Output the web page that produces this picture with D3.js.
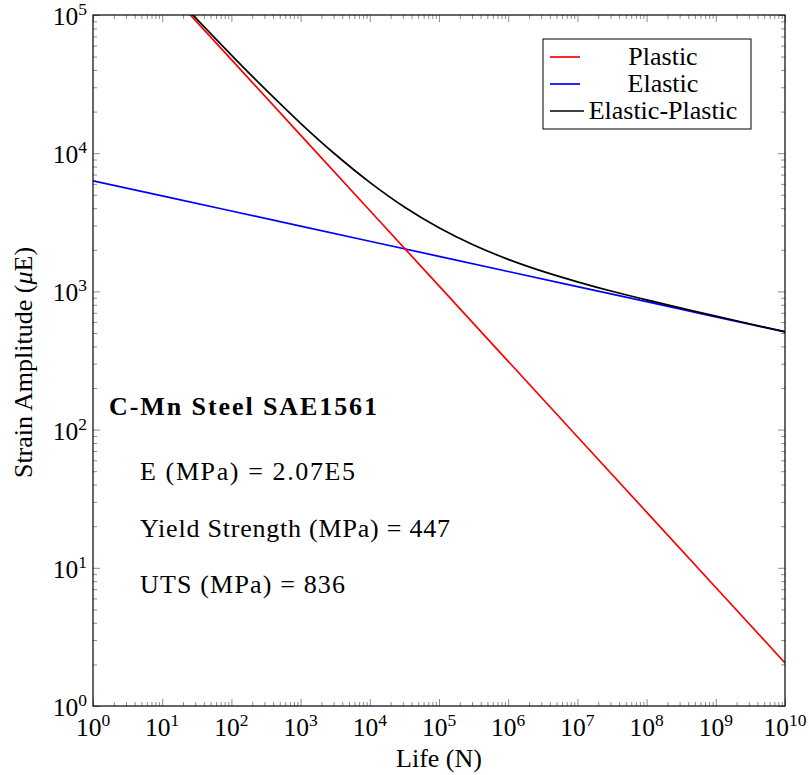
<!DOCTYPE html>
<html><head><meta charset="utf-8">
<script src="https://cdn.jsdelivr.net/npm/d3@7"></script>
<style>body{margin:0;background:#fff}svg{display:block}</style>
</head><body><svg id="c" width="809" height="775"></svg>
<script>
// ---- data ----
const lifeDecades = [0,1,2,3,4,5,6,7,8,9,10];            // x tick exponents
const strainDecades = [0,1,2,3,4,5];                     // y tick exponents
const plasticLife   = [1, 1e1, 1e2, 1e3, 1e4, 1e5, 1e6, 1e7, 1e8, 1e9, 1e10];
const plasticStrain = [586000, 166800, 47500, 13500, 3850, 1096, 312, 88.8, 25.3, 7.2, 2.05];
const elasticLife   = [1, 1e1, 1e2, 1e3, 1e4, 1e5, 1e6, 1e7, 1e8, 1e9, 1e10];
const elasticStrain = [6310, 4905, 3815, 2966, 2306, 1793, 1394, 1084, 843, 655, 509];
const totalLife   = [1, 1e1, 1e2, 3.16e2, 1e3, 3.16e3, 1e4, 3.16e4, 1e5, 3.16e5, 1e6, 3.16e6, 1e7, 3.16e7, 1e8, 1e9, 1e10];
const totalStrain = [592000, 171700, 51300, 28700, 16470, 9830, 6156, 4084, 2889, 2166, 1706, 1395, 1173, 1002, 868, 662, 511];
const seriesNames = ["Plastic", "Elastic", "Elastic-Plastic"];
const seriesColors = ["#ff0000", "#0000ff", "#000000"];
const notes = ["E (MPa) = 2.07E5", "Yield Strength (MPa) = 447", "UTS (MPa) = 836"];
const noteTitle = "C-Mn Steel SAE1561";

// ---- layout ----
const FONT = "'Liberation Serif'";
const L = 93, T = 15, R = 785, B = 706;
const svg = d3.select("#c").attr("font-family", FONT);
const x = d3.scaleLog().domain([1, 1e10]).range([L, R]);
const y = d3.scaleLog().domain([1, 1e5]).range([B, T]);

svg.append("clipPath").attr("id","clip").append("rect")
  .attr("x",L).attr("y",T).attr("width",R-L).attr("height",B-T);

function minors(lo, hi){ const out=[]; for(let k=lo;k<hi;k++) for(let m=2;m<=9;m++) out.push(m*Math.pow(10,k)); return out; }
const xMinor = minors(0,10), yMinor = minors(0,5);
const xMajor = lifeDecades.map(d=>Math.pow(10,d));
const yMajor = strainDecades.map(d=>Math.pow(10,d));

function axisTicks(gen, vals, size, tr){
  const g = svg.append("g").attr("transform",tr).call(gen.tickValues(vals).tickSize(size).tickFormat(""));
  g.select(".domain").remove();
  g.selectAll(".tick line").attr("stroke","#808080").attr("stroke-width",0.9);
}
axisTicks(d3.axisBottom(x), xMajor, -7, `translate(0,${B})`);
axisTicks(d3.axisBottom(x), xMinor, -4, `translate(0,${B})`);
axisTicks(d3.axisTop(x), xMajor, -7, `translate(0,${T})`);
axisTicks(d3.axisTop(x), xMinor, -4, `translate(0,${T})`);
axisTicks(d3.axisLeft(y), yMajor, -7, `translate(${L},0)`);
axisTicks(d3.axisLeft(y), yMinor, -4, `translate(${L},0)`);
axisTicks(d3.axisRight(y), yMajor, -7, `translate(${R},0)`);
axisTicks(d3.axisRight(y), yMinor, -4, `translate(${R},0)`);

// lines
const lg = svg.append("g").attr("clip-path","url(#clip)").attr("fill","none").attr("stroke-width",1.7);
const mk = (xs,ys)=>xs.map((v,i)=>[v,ys[i]]);
const straight = d3.line().x(d=>x(d[0])).y(d=>y(d[1]));
const smooth = d3.line().x(d=>x(d[0])).y(d=>y(d[1])).curve(d3.curveCatmullRom.alpha(0.5));
lg.append("path").attr("d",straight(mk(elasticLife,elasticStrain))).attr("stroke",seriesColors[1]);
lg.append("path").attr("d",straight(mk(plasticLife,plasticStrain))).attr("stroke",seriesColors[0]);
lg.append("path").attr("d",smooth(mk(totalLife,totalStrain))).attr("stroke",seriesColors[2]);

// frame
svg.append("rect").attr("x",L).attr("y",T).attr("width",R-L).attr("height",B-T)
  .attr("fill","none").attr("stroke","#000").attr("stroke-width",1.2);

// tick labels
function powLabel(g, e){
  g.append("tspan").text("10");
  g.append("tspan").attr("dy",-10).attr("font-size",17.5).text(e);
}
lifeDecades.forEach(e=>{
  const t = svg.append("text").attr("x",x(Math.pow(10,e))).attr("y",B+30)
    .attr("text-anchor","middle").attr("font-size",25.5).attr("font-family",FONT);
  powLabel(t,e);
});
strainDecades.forEach(e=>{
  const t = svg.append("text").attr("x",L-6).attr("y",y(Math.pow(10,e))+10)
    .attr("text-anchor","end").attr("font-size",25.5).attr("font-family",FONT);
  powLabel(t,e);
});

// axis titles
svg.append("text").attr("x",(L+R)/2).attr("y",767).attr("text-anchor","middle")
  .attr("font-size",26).attr("font-family",FONT).text("Life (N)");
const yt = svg.append("text").attr("transform",`translate(32,${(T+B)/2+2}) rotate(-90)`)
  .attr("text-anchor","middle").attr("font-size",26).attr("font-family",FONT);
yt.append("tspan").text("Strain Amplitude (");
yt.append("tspan").attr("font-style","italic").text("μ");
yt.append("tspan").text("E)");

// annotations
svg.append("text").attr("x",109).attr("y",415).attr("font-size",26).attr("font-weight","bold")
  .attr("font-family",FONT).attr("textLength",268).attr("lengthAdjust","spacing").text(noteTitle);
const noteW = [215, 310, 205];
notes.forEach((s,i)=>{
  svg.append("text").attr("x",140).attr("y",[480,537,593][i]).attr("font-size",26)
    .attr("font-family",FONT).attr("textLength",noteW[i]).attr("lengthAdjust","spacing").text(s);
});

// legend
const leg = svg.append("g");
leg.append("rect").attr("x",543).attr("y",39).attr("width",208).attr("height",90)
  .attr("fill","#fff").attr("stroke","#000").attr("stroke-width",1);
seriesNames.forEach((n,i)=>{
  const yy = [57,84,111][i];
  leg.append("line").attr("x1",550).attr("x2",i==2?584:580).attr("y1",yy).attr("y2",yy)
    .attr("stroke",seriesColors[i]).attr("stroke-width",1.7);
  leg.append("text").attr("x",663).attr("y",yy+8).attr("text-anchor","middle").attr("font-size",26)
    .attr("font-family",FONT).text(n);
});
</script></body></html>
